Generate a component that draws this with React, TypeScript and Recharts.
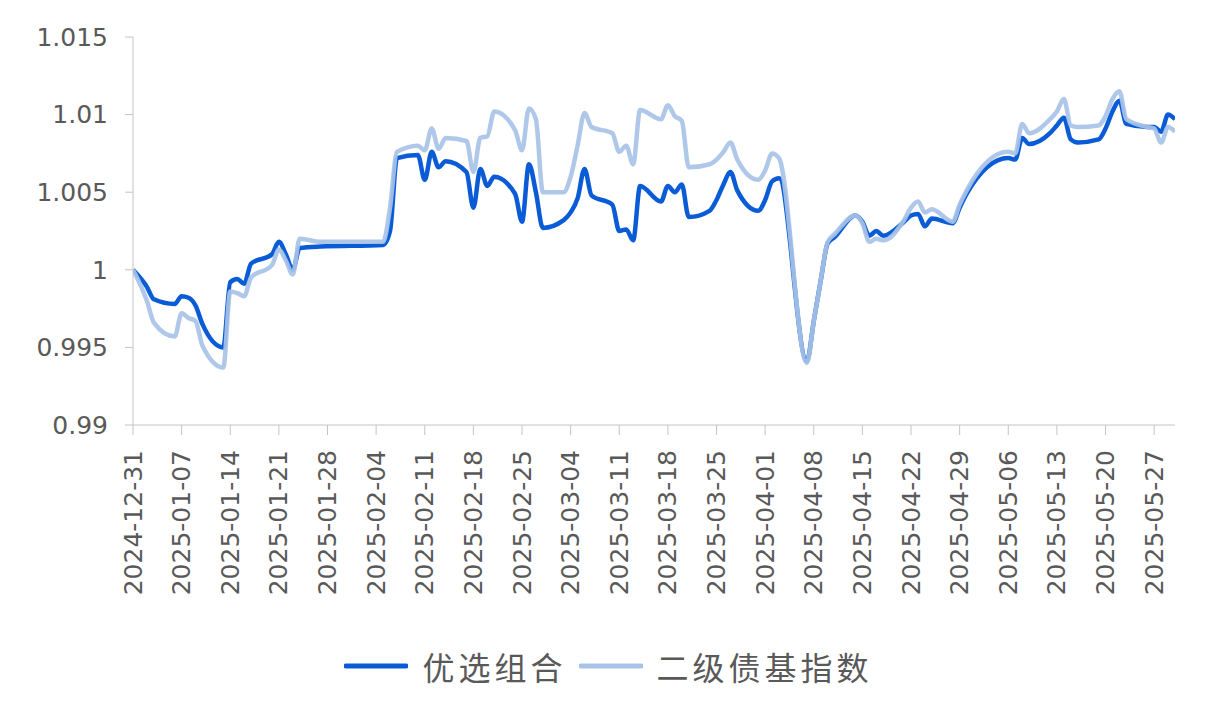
import { Legend, Line, LineChart, XAxis, YAxis } from 'recharts';

const dates = [
  '2024-12-31', '2025-01-02', '2025-01-03', '2025-01-06', '2025-01-07', '2025-01-08', '2025-01-09', '2025-01-10',
  '2025-01-13', '2025-01-14', '2025-01-15', '2025-01-16', '2025-01-17', '2025-01-20', '2025-01-21', '2025-01-22',
  '2025-01-23', '2025-01-24', '2025-01-27', '2025-02-05', '2025-02-06', '2025-02-07', '2025-02-10', '2025-02-11',
  '2025-02-12', '2025-02-13', '2025-02-14', '2025-02-17', '2025-02-18', '2025-02-19', '2025-02-20', '2025-02-21',
  '2025-02-24', '2025-02-25', '2025-02-26', '2025-02-27', '2025-02-28', '2025-03-03', '2025-03-04', '2025-03-05',
  '2025-03-06', '2025-03-07', '2025-03-10', '2025-03-11', '2025-03-12', '2025-03-13', '2025-03-14', '2025-03-17',
  '2025-03-18', '2025-03-19', '2025-03-20', '2025-03-21', '2025-03-24', '2025-03-25', '2025-03-26', '2025-03-27',
  '2025-03-28', '2025-03-31', '2025-04-01', '2025-04-02', '2025-04-03', '2025-04-07', '2025-04-08', '2025-04-09',
  '2025-04-10', '2025-04-11', '2025-04-14', '2025-04-15', '2025-04-16', '2025-04-17', '2025-04-18', '2025-04-21',
  '2025-04-22', '2025-04-23', '2025-04-24', '2025-04-25', '2025-04-28', '2025-04-29', '2025-04-30', '2025-05-06',
  '2025-05-07', '2025-05-08', '2025-05-09', '2025-05-12', '2025-05-13', '2025-05-14', '2025-05-15', '2025-05-16',
  '2025-05-19', '2025-05-20', '2025-05-21', '2025-05-22', '2025-05-23', '2025-05-26', '2025-05-27', '2025-05-28',
  '2025-05-29', '2025-05-30',
];

// 优选组合
const youxuan = [
  1.0, 0.9989, 0.9981, 0.9978, 0.9983, 0.9982, 0.9977, 0.9965,
  0.995, 0.9992, 0.9994, 0.9991, 1.0004, 1.001, 1.0018, 1.001,
  1.0, 1.0014, 1.0015, 1.0016, 1.0025, 1.0072, 1.0074, 1.0058,
  1.0076, 1.0066, 1.007, 1.0063, 1.004, 1.0065, 1.0054, 1.006,
  1.0049, 1.0031, 1.0068, 1.005, 1.0027, 1.0032, 1.0037, 1.0046,
  1.0065, 1.0048, 1.0042, 1.0025, 1.0026, 1.0019, 1.0054, 1.0044,
  1.0054, 1.005, 1.0055, 1.0034, 1.0038, 1.0045, 1.0055, 1.0063,
  1.0051, 1.0038, 1.0045, 1.0057, 1.0059, 0.9941, 0.9967, 0.9993,
  1.0017, 1.0021, 1.0035, 1.0031, 1.0022, 1.0025, 1.0022, 1.0031,
  1.0035, 1.0036, 1.0028, 1.0033, 1.003, 1.004, 1.0049, 1.0072,
  1.0071, 1.0085, 1.0081, 1.0088, 1.0093, 1.0098, 1.0084, 1.0082,
  1.0084, 1.0091, 1.0102, 1.0109, 1.0094, 1.0092, 1.0092, 1.0089,
  1.01, 1.0097,
];

// 二级债基指数
const erjiZhaiji = [
  1.0, 0.998, 0.9966, 0.9957, 0.9972, 0.9969, 0.9967, 0.9951,
  0.9937, 0.9986, 0.9985, 0.9983, 0.9995, 1.0003, 1.0013, 1.0006,
  0.9997, 1.002, 1.0018, 1.0018, 1.004, 1.0076, 1.008, 1.0077,
  1.0091, 1.0078, 1.0085, 1.0083, 1.0063, 1.0085, 1.0086, 1.0102,
  1.009, 1.0077, 1.0104, 1.0097, 1.005, 1.005, 1.006, 1.008,
  1.0101, 1.0092, 1.0088, 1.0076, 1.008, 1.0068, 1.0103, 1.0097,
  1.0106, 1.0099, 1.0096, 1.0066, 1.0068, 1.0071, 1.0076, 1.0082,
  1.0071, 1.0058, 1.0064, 1.0075, 1.0072, 0.994, 0.9967, 0.9993,
  1.0018, 1.0023, 1.0035, 1.003, 1.0018, 1.002, 1.0019, 1.0032,
  1.004, 1.0044, 1.0037, 1.0039, 1.0031, 1.0042, 1.0051, 1.0076,
  1.0075, 1.0094, 1.0088, 1.0097, 1.0102, 1.011, 1.0093, 1.0092,
  1.0093, 1.0099, 1.011, 1.0115, 1.0097, 1.0092, 1.0091, 1.0082,
  1.0092, 1.0089,
];

const tickDates = [
  '2024-12-31', '2025-01-07', '2025-01-14', '2025-01-21', '2025-01-28', '2025-02-04',
  '2025-02-11', '2025-02-18', '2025-02-25', '2025-03-04', '2025-03-11', '2025-03-18',
  '2025-03-25', '2025-04-01', '2025-04-08', '2025-04-15', '2025-04-22', '2025-04-29',
  '2025-05-06', '2025-05-13', '2025-05-20', '2025-05-27',
];

const yTicks = [0.99, 0.995, 1, 1.005, 1.01, 1.015];

const seriesNames = ['优选组合', '二级债基指数'];
const seriesColors = ['#0a5cd6', '#a8c3e7'];

const DAY = 86400000;
const startMs = Date.parse(tickDates[0]);
const toDay = (s: string) => Math.round((Date.parse(s) - startMs) / DAY);

const rows = dates.map((d, i) => ({ day: toDay(d), a: youxuan[i], b: erjiZhaiji[i] }));
const tickDays = tickDates.map(toDay);
const labelByDay: Record<number, string> = {};
tickDates.forEach((d) => (labelByDay[toDay(d)] = d));

const axisColor = '#c4c4c4';
const textColor = '#595959';
const numFont = '"DejaVu Sans", sans-serif';

function DateTick(props: any) {
  const { x, y, payload } = props;
  return (
    <text
      x={x}
      y={y}
      transform={`rotate(-90 ${x} ${y})`}
      textAnchor="end"
      dominantBaseline="central"
      fill={textColor}
      fontSize={25}
      fontFamily={numFont}
    >
      {labelByDay[payload.value] ?? ''}
    </text>
  );
}

function LegendBox() {
  return (
    <div
      style={{
        display: 'flex',
        justifyContent: 'center',
        alignItems: 'center',
        height: 44,
        paddingRight: 10,
        fontFamily: '"Noto Sans CJK SC", sans-serif',
        fontSize: 32,
        letterSpacing: 4,
        color: textColor,
      }}
    >
      {seriesNames.map((name, i) => (
        <span key={name} style={{ display: 'flex', alignItems: 'center', marginRight: i === 0 ? 12 : 0 }}>
          <svg width={64} height={8} style={{ marginRight: 14 }}>
            <line x1={2} y1={4} x2={62} y2={4} stroke={seriesColors[i]} strokeWidth={5} strokeLinecap="round" />
          </svg>
          {name}
        </span>
      ))}
    </div>
  );
}

export default function App() {
  return (
    <LineChart width={1211} height={686} data={rows} margin={{ top: 29, right: 44, left: 0, bottom: 6 }}>
      <XAxis
        dataKey="day"
        type="number"
        domain={[0, 150]}
        ticks={tickDays}
        interval={0}
        height={219}
        tick={<DateTick />}
        tickSize={10}
        tickMargin={15}
        stroke={axisColor}
        allowDataOverflow
      />
      <YAxis
        type="number"
        domain={[0.99, 1.015]}
        ticks={yTicks}
        interval={0}
        width={125}
        tickSize={8}
        tickMargin={17}
        stroke={axisColor}
        tickFormatter={(v: number) => String(Number(v.toFixed(3)))}
        tick={{ fill: textColor, fontSize: 25, fontFamily: numFont }}
        allowDataOverflow
      />
      <Line
        dataKey="a"
        name={seriesNames[0]}
        type="monotone"
        stroke={seriesColors[0]}
        strokeWidth={4.5}
        dot={false}
        activeDot={false}
        isAnimationActive={false}
      />
      <Line
        dataKey="b"
        name={seriesNames[1]}
        type="monotone"
        stroke={seriesColors[1]}
        strokeWidth={4.5}
        strokeOpacity={0.92}
        dot={false}
        activeDot={false}
        isAnimationActive={false}
      />
      <Legend verticalAlign="bottom" content={<LegendBox />} wrapperStyle={{ left: 0, width: 1211 }} />
    </LineChart>
  );
}
